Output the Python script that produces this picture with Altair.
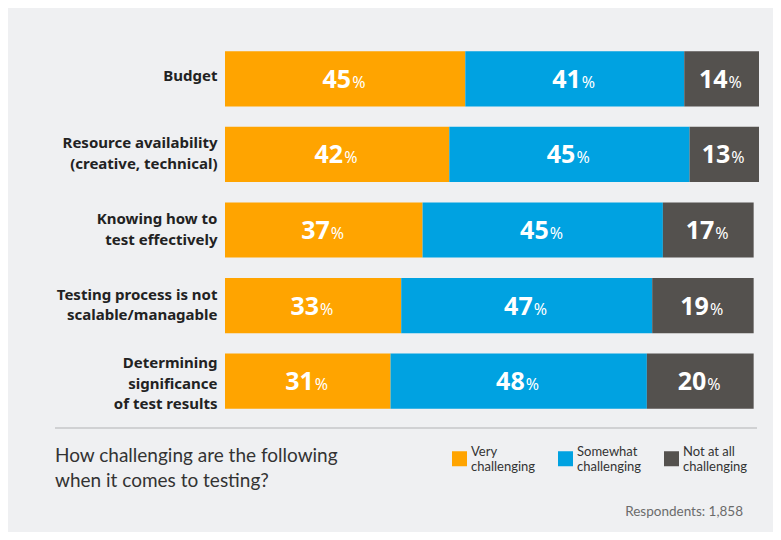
import altair as alt
import pandas as pd

categories = [
    "Budget",
    "Resource availability|(creative, technical)",
    "Knowing how to|test effectively",
    "Testing process is not|scalable/managable",
    "Determining |significance|of test results",
]
levels = ["Very challenging", "Somewhat challenging", "Not at all challenging"]
very = [45, 42, 37, 33, 31]
somewhat = [41, 45, 45, 47, 48]
not_at_all = [14, 13, 17, 19, 20]
colors = ["#ffa400", "#00a2e1", "#54514e"]

rows = []
for i, c in enumerate(categories):
    for j, (lvl, vals) in enumerate(zip(levels, [very, somewhat, not_at_all])):
        rows.append({"cat": c, "level": lvl, "order": j, "value": vals[i]})
df = pd.DataFrame(rows)

FONT = "Lato"
BOLD = "Noto Sans"
BG = "#eff0f2"

base = alt.Chart(df).transform_stack(
    stack="value", groupby=["cat"], as_=["x0", "x1"], sort=[alt.SortField("order")]
).transform_calculate(mid="(datum.x0 + datum.x1) / 2")

nlines = "length(split(datum.value, '|'))"
yenc = alt.Y(
    "cat:N",
    sort=categories,
    scale=alt.Scale(paddingInner=0.27, paddingOuter=0.135),
    axis=alt.Axis(
        title=None, domain=False, ticks=False, labelPadding=8,
        labelFont=BOLD, labelFontSize=15, labelFontWeight="bold",
        labelColor="#222222", labelLineHeight=20.5, labelLimit=300,
        labelExpr="split(datum.label, '|')",
        labelOffset={
            "condition": [
                {"test": f"{nlines} == 3", "value": -18},
                {"test": f"{nlines} == 2", "value": -11},
            ],
            "value": -3,
        },
    ),
)

bars = base.mark_bar().encode(
    x=alt.X("x0:Q", scale=alt.Scale(domain=[0, 100]), axis=None),
    x2="x1:Q",
    y=yenc,
    color=alt.Color(
        "level:N",
        scale=alt.Scale(domain=levels, range=colors),
        title=None,
        legend=alt.Legend(
            orient="none", legendX=227, legendY=410, direction="horizontal",
            symbolType="square", symbolSize=225, symbolStrokeWidth=0,
            labelFont=FONT, labelFontSize=13, labelColor="#333333",
            labelBaseline="bottom",
            labelOffset=4, columnPadding=22, padding=0,
            labelExpr="[replace(datum.label, ' challenging', ''), 'challenging']",
        ),
    ),
)

nums = base.mark_text(
    font=BOLD, fontSize=25, fontWeight="bold", color="white",
    align="right", baseline="alphabetic", dx=6, dy=9,
).encode(x="mid:Q", y=alt.Y("cat:N", sort=categories), text="value:Q")

pct = base.mark_text(
    font=BOLD, fontSize=16, color="white",
    align="left", baseline="alphabetic", dx=7, dy=9,
).encode(x="mid:Q", y=alt.Y("cat:N", sort=categories), text=alt.value("%"))

divider = alt.Chart(pd.DataFrame({"k": [0]})).mark_rule(
    color="#c6c7c9", strokeWidth=1.5
).encode(x=alt.value(-170), x2=alt.value(532), y=alt.value(387))

question = alt.Chart(pd.DataFrame({"k": [0]})).mark_text(
    font=FONT, fontSize=19, color="#333333", align="left", baseline="middle",
    lineBreak="|", lineHeight=25,
).encode(
    x=alt.value(-170), y=alt.value(415),
    text=alt.value("How challenging are the following|when it comes to testing?"),
)

resp = alt.Chart(pd.DataFrame({"k": [0]})).mark_text(
    font=FONT, fontSize=13.5, color="#6b6b6b", align="right", baseline="middle",
).encode(x=alt.value(518), y=alt.value(471), text=alt.value("Respondents: 1,858"))

chart = alt.layer(bars, nums, pct, divider, question, resp).properties(
    width=534, height=378,
    autosize=alt.AutoSizeParams(type="none"),
    padding={"left": 217, "top": 33, "right": 14, "bottom": 113},
    background=BG,
).configure_view(stroke=None)

chart.save("out.html", embed_options={"renderer": "svg", "actions": False})
